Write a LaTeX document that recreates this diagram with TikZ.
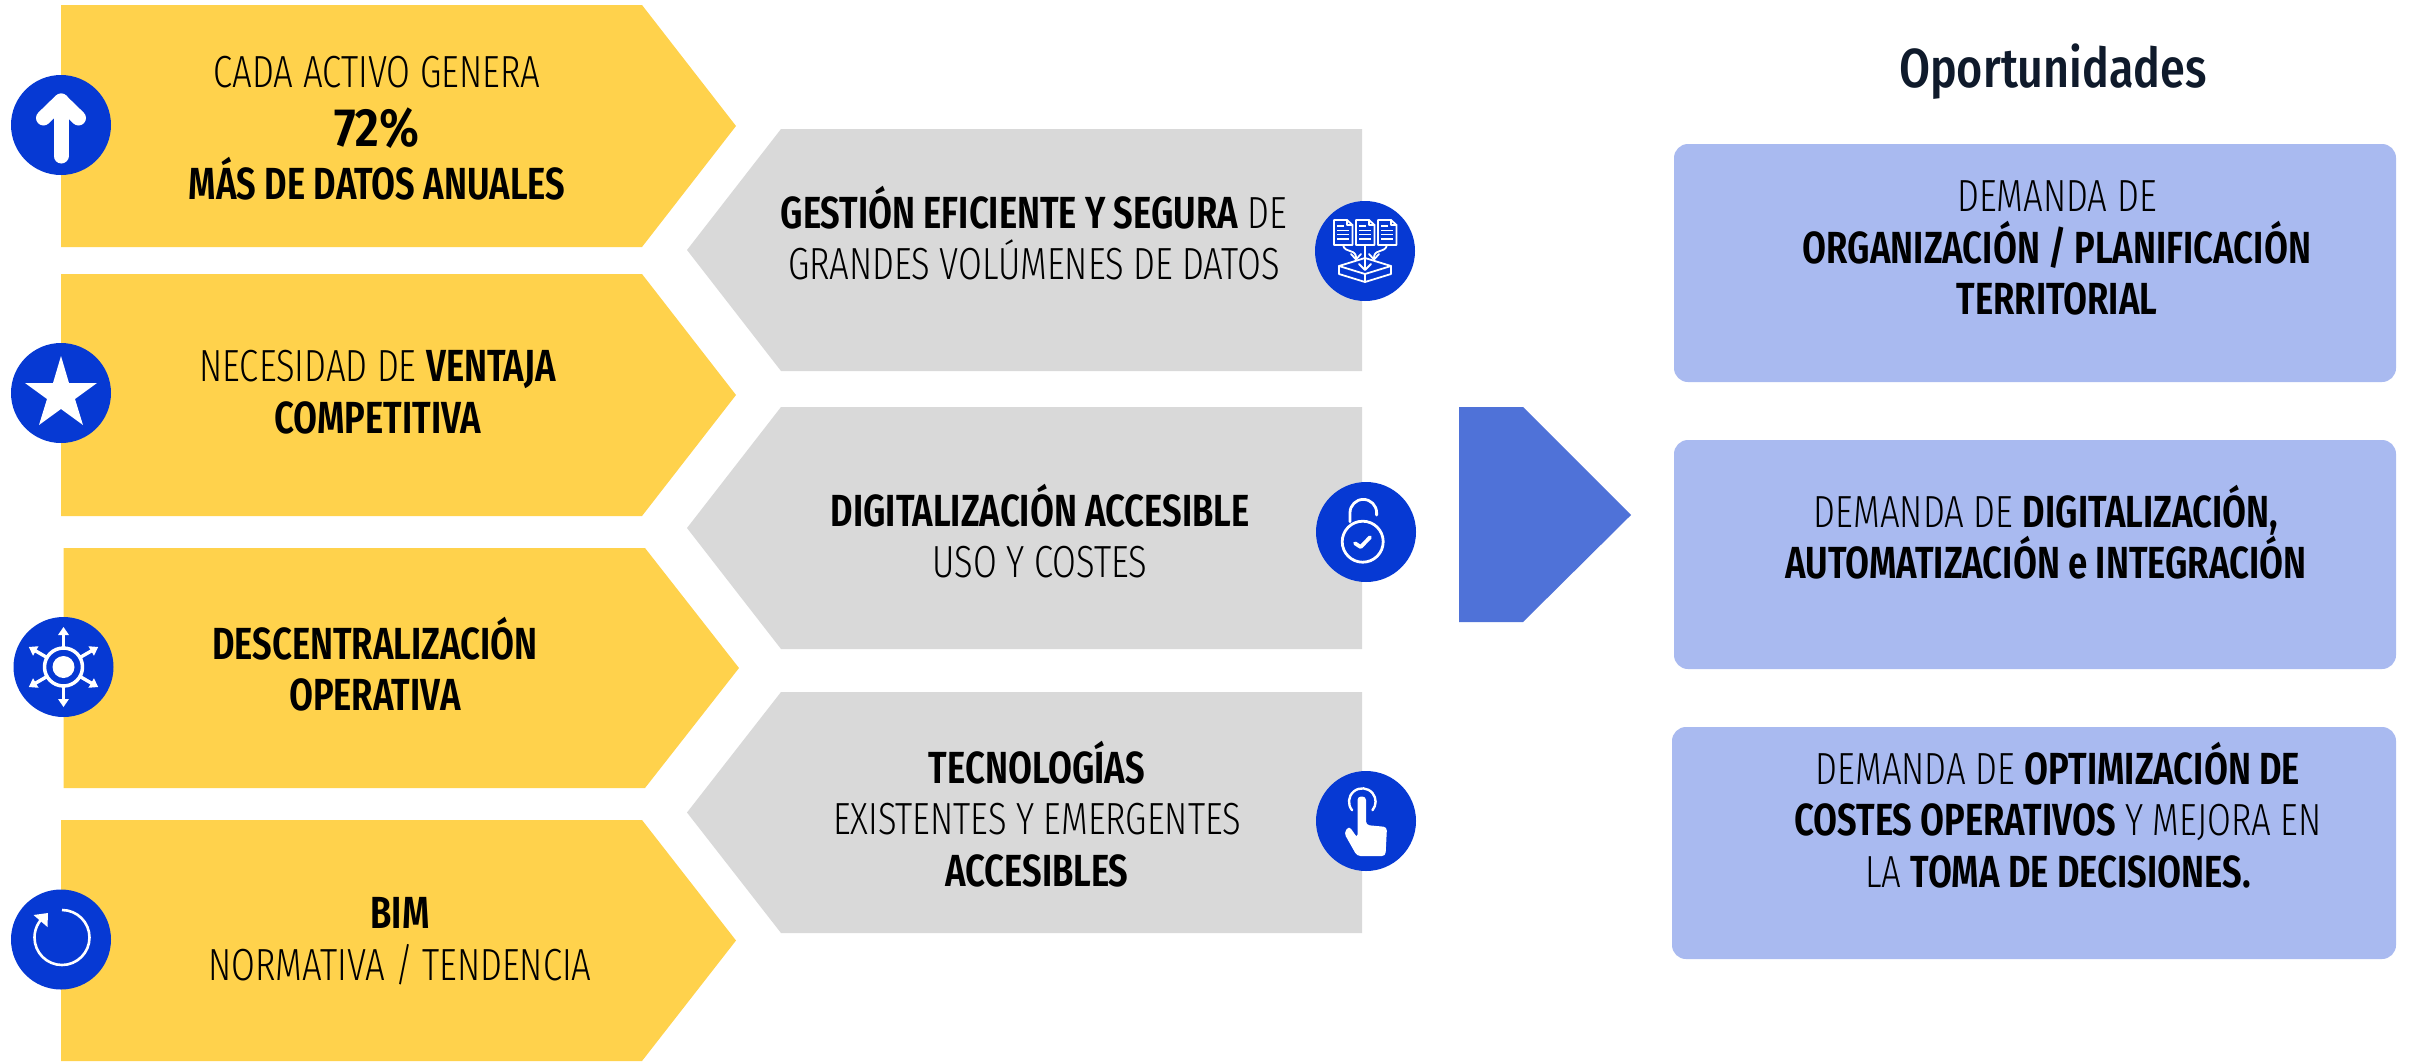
\documentclass[tikz,border=0pt]{standalone}
\usepackage{fontspec}
\setmainfont{Fira Sans Condensed}[UprightFont=* Light,BoldFont=* SemiBold,FakeStretch=0.85]
\newfontfamily\titlefont{Fira Sans Condensed Medium}[FakeStretch=0.9]
\newfontfamily\pctfont{Fira Sans Condensed SemiBold}[FakeStretch=0.95]
\definecolor{yel}{HTML}{FFD24C}
\definecolor{gry}{HTML}{D9D9D9}
\definecolor{ico}{HTML}{0639D3}
\definecolor{arr}{HTML}{4F72D8}
\definecolor{bbox}{HTML}{A9BAF0}
\definecolor{ink}{HTML}{0F1A2B}
\tikzset{
 x=1pt,y=-1pt,
 yshape/.style={fill=yel,draw=none},
 gshape/.style={fill=gry,draw=none},
 bshape/.style={fill=bbox,draw=none,rounded corners=14pt},
 icon/.style={fill=ico,draw=none},
 wl/.style={draw=white,line cap=round,line join=round,line width=#1},
 wl/.default=3pt,
 lbl/.style={align=center,inner sep=0pt,text=black,font=\fontsize{45}{51.5}\selectfont},
}
\newcommand{\yshp}[5]{\fill[yshape] (#1,#2) -- (#3,#2) -- (#4,{(#2+#5)/2}) -- (#3,#5) -- (#1,#5) -- cycle;}
\newcommand{\gshp}[2]{\fill[gshape] (1362,#1) -- (781,#1) -- (687,{(#1+#2)/2}) -- (781,#2) -- (1362,#2) -- cycle;}
\begin{document}
\begin{tikzpicture}
\useasboundingbox (0,0) rectangle (2410,1061);
\fill[white] (0,0) rectangle (2410,1061);
\yshp{61}{5}{642}{736}{247}
\yshp{61}{274}{642}{736}{516}
\yshp{63.5}{548}{645}{739}{788}
\yshp{61}{820}{642}{736}{1061}
\gshp{129}{371}
\gshp{407}{649}
\gshp{692}{933}
\fill[arr] (1459,407) -- (1523,407) -- (1631,515) -- (1523,622) -- (1459,622) -- cycle;
\fill[bshape] (1674,144) rectangle (2396,382);
\fill[bshape] (1674,440) rectangle (2396,669);
\fill[bshape] (1672,727) rectangle (2396,959);
% circles
\foreach \cx/\cy in {61/125,61/393,63.5/667,61/939.5,1365/251,1366/532,1366/821}
  \fill[icon] (\cx,\cy) circle (50);
% up arrow
\draw[wl=15pt] (61,101) -- (61,156);
\draw[wl=15pt] (43.5,118) -- (61,101) -- (78.5,118);
% star
\fill[white] (61,356) -- (69,383) -- (97,383) -- (75,399) -- (83,425) -- (61,409) -- (39,425) -- (47,399) -- (25,383) -- (53,383) -- cycle;
% decentral
\begin{scope}[shift={(63.5,667)}]
 \fill[white] (0,0) circle (11);
 \draw[wl=3.5pt] (0,0) circle (19);
 \foreach \a in {30,90,150,210,270,330}{
  \begin{scope}[rotate=\a]
   \draw[wl=3.4pt] (19,0) -- (36,0);
   \fill[white] (40,0) -- (32,-5.5) -- (32,5.5) -- cycle;
  \end{scope}
 }
\end{scope}
% refresh
\draw[white,line width=2.6pt] (62,910) arc[start angle=-90,end angle=230,radius=27.5];
\fill[white] (33.5,915) -- (48,913) -- (47.5,927) -- cycle;
% docs icon
\begin{scope}[shift={(1365,251)}]
 \foreach \dx in {-22,0,22}{
  \begin{scope}[shift={(\dx,0)}]
   \draw[wl=1.8pt] (-9,-31) -- (4,-31) -- (9.5,-26) -- (9.5,-6) -- (-9,-6) -- cycle;
   \draw[wl=1.3pt] (4,-31) -- (4,-26) -- (9.5,-26);
   \draw[white,line width=1.8pt] (-6,-25) -- (1,-25) (-6,-20.5) -- (6,-20.5) (-6,-16.5) -- (6,-16.5) (-6,-12) -- (6,-12);
  \end{scope}
 }
 \draw[wl=1.8pt] (-26,15) -- (0,7) -- (26,15) -- (0,23) -- cycle;
 \draw[wl=1.8pt] (-26,15) -- (-26,23) -- (0,31) -- (26,23) -- (26,15);
 \draw[wl=1.8pt] (0,23) -- (0,31);
 \draw[wl=1.8pt] (0,-6) -- (0,18);
 \draw[wl=1.8pt] (-6,13) -- (0,19) -- (6,13);
 \draw[wl=1.8pt] (-22,-6) .. controls (-20,3) and (-8,-3) .. (-9,8);
 \draw[wl=1.8pt] (-14,3) -- (-9,8.5) -- (-4,3);
 \draw[wl=1.8pt] (22,-6) .. controls (20,3) and (8,-3) .. (9,8);
 \draw[wl=1.8pt] (14,3) -- (9,8.5) -- (4,3);
\end{scope}
% lock
\draw[wl=2.8pt] (1362.7,541.7) circle (20.5);
\draw[wl=2.8pt] (1350,521.7) -- (1350,512.7) arc[start angle=180,end angle=360,radius=13.3] -- (1376.6,515);
\draw[wl=3.8pt] (1355,543.3) -- (1360.7,547) -- (1370,537.3);
% hand
\draw[white,line width=2.4pt,line cap=round] (1352.1,810.2) arc[start angle=140,end angle=400,radius=13.3];
\fill[white,rounded corners=3.5pt] (1357.5,838) -- (1357.5,796.5) -- (1366,796.5) -- (1366,825) -- (1387,827) -- (1385.5,856) -- (1357,856) -- (1344,833) -- (1349,826) -- cycle;
% labels
\node[lbl] (y1a) at (377,72) {CADA ACTIVO GENERA};
\node[lbl,font=\pctfont\fontsize{54}{55}\selectfont] (y1b) at (377,128) {72\%};
\node[lbl,font=\fontsize{45}{51}\selectfont\bfseries] (y1c) at (377,179) {MÁS DE DATOS ANUALES};
\node[lbl] (y2) at (378,392) {NECESIDAD DE \textbf{VENTAJA}\\\textbf{COMPETITIVA}};
\node[lbl] (y3) at (375,664) {\textbf{DESCENTRALIZACIÓN}\\\textbf{OPERATIVA}};
\node[lbl] (y4) at (400,941) {\textbf{BIM}\\NORMATIVA / TENDENCIA};
\node[lbl] (g1) at (1034,233) {\textbf{GESTIÓN EFICIENTE Y SEGURA} DE\\GRANDES VOLÚMENES DE DATOS};
\node[lbl] (g2) at (1040,531) {\textbf{DIGITALIZACIÓN ACCESIBLE}\\USO Y COSTES};
\node[lbl] (g3) at (1037,814) {\textbf{TECNOLOGÍAS}\\EXISTENTES Y  EMERGENTES\\\textbf{ACCESIBLES}};
\node[inner sep=0pt,text=ink,font=\titlefont\fontsize{55}{60}\selectfont] (title) at (2053,72) {Oportunidades};
\node[lbl] (b1) at (2057,248) {DEMANDA DE\\\textbf{ORGANIZACIÓN  / PLANIFICACIÓN}\\\textbf{TERRITORIAL}};
\node[lbl] (b2) at (2046,532) {DEMANDA DE \textbf{DIGITALIZACIÓN,}\\\textbf{AUTOMATIZACIÓN e INTEGRACIÓN}};
\node[lbl] (b3) at (2058,815) {DEMANDA DE \textbf{OPTIMIZACIÓN DE}\\\textbf{COSTES OPERATIVOS} Y MEJORA EN\\LA \textbf{TOMA DE DECISIONES.}};
\end{tikzpicture}
\end{document}
